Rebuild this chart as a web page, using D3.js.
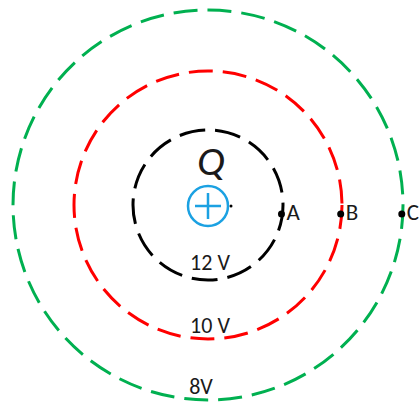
<!DOCTYPE html>
<html>
<head>
<meta charset="utf-8">
<script src="https://cdn.jsdelivr.net/npm/d3@7"></script>
<style>
  body { margin: 0; background: #fff; }
  svg { display: block; font-family: Carlito, Calibri, "Liberation Sans", Arial, sans-serif; }
</style>
</head>
<body>
<div id="chart"></div>
<script>
// equipotential circles around charge Q
let potentials = ["12 V", "10 V", "8V"];
let radii = [75, 134, 195];          // distance from charge
let ringColors = ["#000000", "#ff0000", "#00b050"];
let pointNames = ["A", "B", "C"];

let width = 419, height = 403;
let cx = 208, cy = 205;

let svg = d3.select("#chart").append("svg")
    .attr("width", width)
    .attr("height", height);

let rScale = d3.scaleLinear().domain([0, 195]).range([0, 195]);

let rings = potentials.map(function(p, i) {
    return { label: p, r: radii[i], color: ringColors[i], name: pointNames[i] };
});

svg.selectAll(".ring")
    .data(rings)
    .enter()
    .append("circle")
    .attr("class", "ring")
    .attr("cx", cx)
    .attr("cy", cy)
    .attr("r", function(d) { return rScale(d.r); })
    .attr("fill", "none")
    .attr("stroke", function(d) { return d.color; })
    .attr("stroke-width", 3)
    .attr("stroke-dasharray", function(d, i) { return i === 0 ? "26 10" : "24 10"; });

// potential labels below each ring
svg.selectAll(".vlabel")
    .data(rings)
    .enter()
    .append("text")
    .attr("class", "vlabel")
    .attr("x", function(d, i) { return i === 2 ? cx - 7 : cx + 2; })
    .attr("y", function(d, i) { return cy + rScale(d.r) - (i === 0 ? 10 : 6); })
    .attr("text-anchor", "middle")
    .attr("font-size", 22)
    .attr("fill", "#1a1a1a")
    .text(function(d) { return d.label; });

// points A, B, C on the rings
let pts = svg.selectAll(".pt")
    .data(rings)
    .enter()
    .append("g")
    .attr("class", "pt")
    .attr("transform", function(d) {
        let x = cx + Math.sqrt(rScale(d.r) * rScale(d.r) - 81) - 1;
        return "translate(" + x + "," + (cy + 9) + ")";
    });

pts.append("circle")
    .attr("r", 3.5)
    .attr("fill", "#000");

pts.append("text")
    .attr("x", 5)
    .attr("y", 6)
    .attr("font-size", 23)
    .attr("fill", "#1a1a1a")
    .text(function(d) { return d.name; });

// the charge
svg.append("circle")
    .attr("cx", cx)
    .attr("cy", cy + 1)
    .attr("r", 20)
    .attr("fill", "none")
    .attr("stroke", "#1ba1e2")
    .attr("stroke-width", 2.5);

svg.append("path")
    .attr("d", "M" + (cx - 13) + "," + (cy + 1) + "H" + (cx + 13) + "M" + cx + "," + (cy - 12) + "V" + (cy + 14))
    .attr("stroke", "#1ba1e2")
    .attr("stroke-width", 2.5);

svg.append("circle")
    .attr("cx", cx + 23)
    .attr("cy", cy + 1)
    .attr("r", 1.5)
    .attr("fill", "#000");

svg.append("text")
    .attr("x", cx + 3)
    .attr("y", 175)
    .attr("text-anchor", "middle")
    .attr("font-size", 42)
    .attr("font-style", "italic")
    .attr("fill", "#1a1a1a")
    .text("Q");
</script>
</body>
</html>
